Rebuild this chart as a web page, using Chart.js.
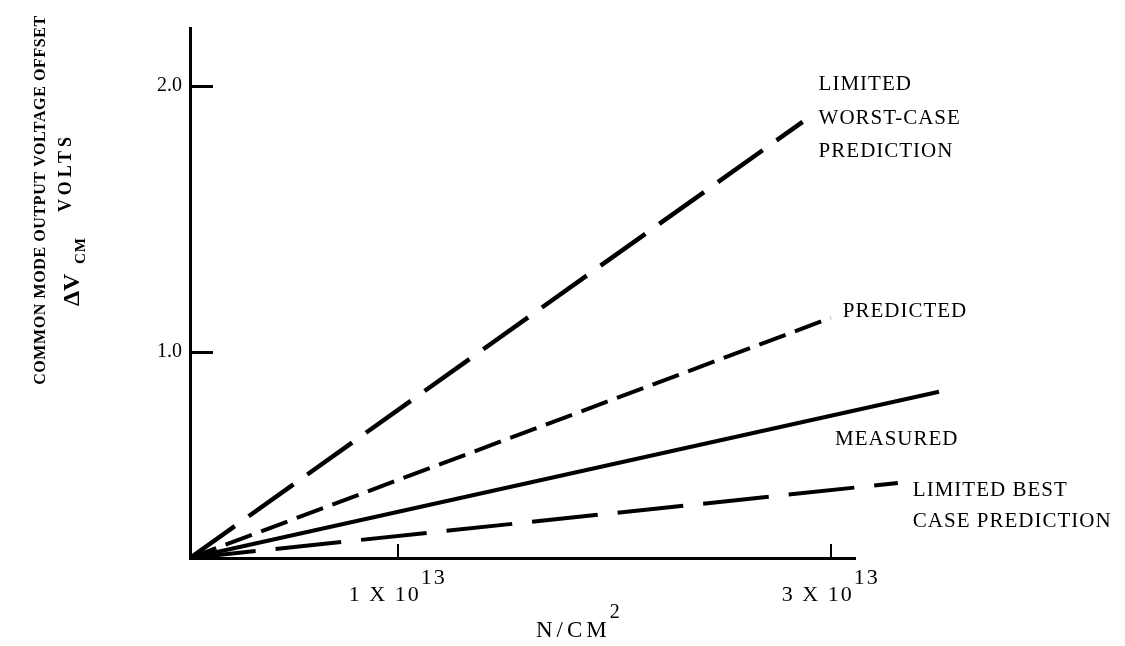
<!DOCTYPE html>
<html>
<head>
<meta charset="utf-8">
<script src="https://cdn.jsdelivr.net/npm/chart.js@4/dist/chart.umd.min.js"></script>
<style>
  html, body { margin: 0; padding: 0; background: #fff; }
  #wrap { width: 1125px; height: 646px; position: relative; }
</style>
</head>
<body>
<div id="wrap"><canvas id="chart" width="1125" height="646"></canvas></div>
<script>
// Fluence in units of 1e13 n/cm^2, offset voltage in volts.
// Each line runs from the axes' corner out to its end point.
const fluenceWorst     = [0.04, 2.87];
const offsetWorst      = [0.224, 1.864];
const fluencePredicted = [0.04, 3.00];
const offsetPredicted  = [0.224, 1.127];
const fluenceMeasured  = [0.04, 3.50];
const offsetMeasured   = [0.224, 0.849];
const fluenceBest      = [0.04, 3.31];
const offsetBest       = [0.224, 0.506];

const labelWorst     = ['LIMITED', 'WORST-CASE', 'PREDICTION'];
const labelPredicted = ['PREDICTED'];
const labelMeasured  = ['MEASURED'];
const labelBest      = ['LIMITED BEST', 'CASE PREDICTION'];

// Axis ranges and tick labels
const xRange = [0.04, 3.112];
const yRange = [0.224, 2.217];
const xTickValues   = [1, 3];
const xTickMantissa = ['1 X 10', '3 X 10'];
const xTickExponent = ['13', '13'];
const yTickValues   = [1.0, 2.0];
const yTickLabels   = ['1.0', '2.0'];

const yTitle      = 'COMMON MODE OUTPUT VOLTAGE OFFSET';
const yUnitMain   = '\u0394V';
const yUnitSub    = 'CM';
const yUnitWord   = 'VOLTS';
const xTitleMain  = 'N/CM';
const xTitleSup   = '2';

const pts = (xs, ys) => xs.map((x, i) => ({ x: x, y: ys[i] }));

const SERIF = '"Liberation Serif", "DejaVu Serif", serif';

// Where each series' caption sits relative to the line's last point
const captionStyle = [
  { lines: labelWorst,     dx: 16,   dy: -37, step: 33.5 },
  { lines: labelPredicted, dx: 12,   dy: -6,  step: 0 },
  { lines: labelMeasured,  dx: -104, dy: 48,  step: 0 },
  { lines: labelBest,      dx: 15,   dy: 7,   step: 31 }
];

const decorations = {
  id: 'decorations',
  afterDraw(chart) {
    const ctx = chart.ctx;
    const xs = chart.scales.x, ys = chart.scales.y;
    const area = chart.chartArea;
    ctx.save();
    ctx.strokeStyle = '#000';
    ctx.fillStyle = '#000';
    ctx.lineCap = 'butt';

    // inward tick marks
    ctx.lineWidth = 3;
    yTickValues.forEach(v => {
      const py = Math.round(ys.getPixelForValue(v)) + 0.5;
      ctx.beginPath(); ctx.moveTo(area.left, py); ctx.lineTo(area.left + 23, py); ctx.stroke();
    });
    ctx.lineWidth = 2;
    xTickValues.forEach(v => {
      const px = Math.round(xs.getPixelForValue(v));
      ctx.beginPath(); ctx.moveTo(px, area.bottom); ctx.lineTo(px, area.bottom - 14); ctx.stroke();
    });

    // x tick labels with raised exponent
    ctx.textBaseline = 'middle';
    ctx.textAlign = 'left';
    ctx.letterSpacing = '2px';
    xTickValues.forEach((v, i) => {
      const px = xs.getPixelForValue(v);
      ctx.font = '22px ' + SERIF;
      const wm = ctx.measureText(xTickMantissa[i]).width;
      const we = ctx.measureText(xTickExponent[i]).width;
      const left = px - (wm + we) / 2;
      ctx.fillText(xTickMantissa[i], left, area.bottom + 37);
      ctx.fillText(xTickExponent[i], left + wm, area.bottom + 20);
    });

    // x axis title
    ctx.font = '23px ' + SERIF;
    ctx.letterSpacing = '4px';
    const wt = ctx.measureText(xTitleMain).width;
    ctx.fillText(xTitleMain, 536, area.bottom + 73);
    ctx.letterSpacing = '0px';
    ctx.font = '20px ' + SERIF;
    ctx.fillText(xTitleSup, 536 + wt - 1, area.bottom + 55);

    // series captions
    ctx.font = '21px ' + SERIF;
    ctx.letterSpacing = '1px';
    chart.data.datasets.forEach((ds, i) => {
      const meta = chart.getDatasetMeta(i);
      const last = meta.data[meta.data.length - 1];
      const c = captionStyle[i];
      c.lines.forEach((t, k) => {
        ctx.fillText(t, last.x + c.dx, last.y + c.dy + k * c.step);
      });
    });

    // rotated y axis titles
    ctx.save();
    ctx.translate(41, 200);
    ctx.rotate(-Math.PI / 2);
    ctx.textAlign = 'center';
    ctx.textBaseline = 'middle';
    ctx.letterSpacing = '0.6px';
    ctx.font = 'bold 16px ' + SERIF;
    ctx.fillText(yTitle, 0, 0);
    ctx.restore();

    ctx.save();
    ctx.translate(79, 306);
    ctx.rotate(-Math.PI / 2);
    ctx.textAlign = 'left';
    ctx.textBaseline = 'alphabetic';
    ctx.letterSpacing = '0px';
    ctx.font = 'bold 24px ' + SERIF;
    ctx.fillText(yUnitMain, 0, 0);
    ctx.font = 'bold 15px ' + SERIF;
    ctx.letterSpacing = '1px';
    ctx.fillText(yUnitSub, 42, 6);
    ctx.font = 'bold 18px ' + SERIF;
    ctx.letterSpacing = '4px';
    ctx.fillText(yUnitWord, 94, -8);
    ctx.restore();

    ctx.restore();
  }
};

const lineStyle = (dash, width) => ({
  borderColor: '#000',
  borderWidth: width,
  borderDash: dash,
  borderCapStyle: 'butt',
  pointRadius: 0,
  fill: false,
  tension: 0,
  clip: false
});

new Chart(document.getElementById('chart'), {
  type: 'line',
  data: {
    datasets: [
      Object.assign({ label: labelWorst.join(' '), data: pts(fluenceWorst, offsetWorst) }, lineStyle([55, 17], 4.5)),
      Object.assign({ label: labelPredicted.join(' '), data: pts(fluencePredicted, offsetPredicted) }, lineStyle([28, 10], 4)),
      Object.assign({ label: labelMeasured.join(' '), data: pts(fluenceMeasured, offsetMeasured) }, lineStyle([], 4)),
      Object.assign({ label: labelBest.join(' '), data: pts(fluenceBest, offsetBest) }, lineStyle([66, 20], 4))
    ]
  },
  options: {
    responsive: false,
    animation: false,
    devicePixelRatio: 1,
    layout: { padding: { left: 0, top: 28, right: 270, bottom: 88 } },
    plugins: { legend: { display: false }, tooltip: { enabled: false } },
    scales: {
      x: {
        type: 'linear',
        min: xRange[0], max: xRange[1],
        grid: { display: false, drawTicks: false },
        border: { display: true, color: '#000', width: 3 },
        ticks: { display: false },
        afterBuildTicks: s => { s.ticks = xTickValues.map(v => ({ value: v })); },
        afterFit: s => { s.height = 0; }
      },
      y: {
        type: 'linear',
        min: yRange[0], max: yRange[1],
        grid: { display: false, drawTicks: false },
        border: { display: true, color: '#000', width: 3 },
        ticks: {
          padding: 8,
          color: '#000',
          font: { family: SERIF, size: 20 },
          callback: v => { const i = yTickValues.indexOf(v); return i < 0 ? '' : yTickLabels[i]; }
        },
        afterBuildTicks: s => { s.ticks = yTickValues.map(v => ({ value: v })); },
        afterFit: s => { s.width = 190; }
      }
    }
  },
  plugins: [decorations]
});
</script>
</body>
</html>
